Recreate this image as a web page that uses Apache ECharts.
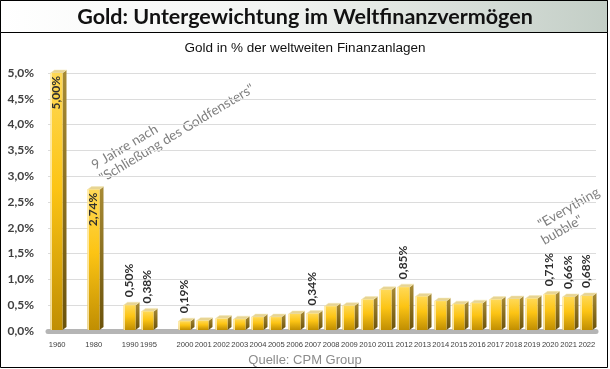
<!DOCTYPE html>
<html><head><meta charset="utf-8">
<script src="https://cdn.jsdelivr.net/npm/echarts@6/dist/echarts.min.js"></script>
<style>html,body{margin:0;padding:0;background:#fff}#c{width:610px;height:369px}</style>
</head><body><div id="c"></div>
<script>
// axis slots (blank slots reproduce the gaps in the time line)
const axisSlots = ['1960','','1980','','1990','1995','','2000','2001','2002','2003','2004','2005','2006','2007','2008','2009','2010','2011','2012','2013','2014','2015','2016','2017','2018','2019','2020','2021','2022'];
const years = ['1960','1980','1990','1995','2000','2001','2002','2003','2004','2005','2006','2007','2008','2009','2010','2011','2012','2013','2014','2015','2016','2017','2018','2019','2020','2021','2022'];
const values = [5.00,2.74,0.50,0.38,0.19,0.20,0.24,0.23,0.27,0.27,0.33,0.34,0.48,0.49,0.61,0.80,0.85,0.67,0.58,0.52,0.54,0.61,0.62,0.63,0.71,0.66,0.68];
const labelledYears = ['1960','1980','1990','1995','2000','2007','2012','2020','2021','2022'];
const insideLabelYears = ['1960','1980'];
const titleText = 'Gold: Untergewichtung im Weltfinanzvermögen';
const subtitleText = 'Gold in % der weltweiten Finanzanlagen';
const sourceText = 'Quelle: CPM Group';
const note1 = ['9 Jahre nach', '"Schließung des Goldfensters"'];
const note2 = ['"Everything', 'bubble"'];

const pct = (v, d) => v.toFixed(d).replace('.', ',') + '%';
const data = years.map((y, i) => [axisSlots.indexOf(y), values[i]]);

const chart = echarts.init(document.getElementById('c'), null, {renderer: 'canvas'});
const calib = 'Lato, "Open Sans", sans-serif';
const annoStyle = {font: '13.5px ' + calib, fill: '#808080', align: 'center', verticalAlign: 'middle'};

chart.setOption({
  animation: false,
  title: [
    {text: titleText, left: 'center', top: 5, padding: 0, textStyle: {fontFamily: calib, fontWeight: 'bold', fontSize: 21.5, lineHeight: 24, color: '#111'}},
    {text: subtitleText, left: 'center', top: 41, padding: 0, textStyle: {fontFamily: '"Liberation Sans", Arial, sans-serif', fontWeight: 'normal', fontSize: 13.5, lineHeight: 15, color: '#111'}},
    {text: sourceText, left: 'center', top: 353, padding: 0, textStyle: {fontFamily: '"Liberation Sans", Arial, sans-serif', fontWeight: 'normal', fontSize: 13, color: '#8c8c8c', lineHeight: 14}}
  ],
  graphic: [
    {type: 'rect', z: -10, silent: true, shape: {x: 0.5, y: 0.5, width: 607, height: 367},
     style: {fill: '#fff', stroke: '#000', lineWidth: 1}},
    {type: 'rect', z: -9, silent: true, shape: {x: 0.5, y: 0.5, width: 607, height: 32},
     style: {fill: new echarts.graphic.LinearGradient(0, 0, 1, 0, [{offset: 0, color: '#ffffff'}, {offset: 0.45, color: '#f2f4f2'}, {offset: 1, color: '#c3cec6'}]), stroke: '#000', lineWidth: 1}},
    {type: 'text', x: 124.7, y: 147, rotation: 31 * Math.PI / 180, style: Object.assign({text: note1[0]}, annoStyle)},
    {type: 'text', x: 176.7, y: 133.3, rotation: 31 * Math.PI / 180, style: Object.assign({text: note1[1]}, annoStyle)},
    {type: 'text', x: 568.7, y: 208, rotation: 30 * Math.PI / 180, style: Object.assign({text: note2[0]}, annoStyle)},
    {type: 'text', x: 562, y: 230, rotation: 30 * Math.PI / 180, style: Object.assign({text: note2[1]}, annoStyle)}
  ],
  grid: {left: 48, right: 14, top: 73, bottom: 38, containLabel: false},
  xAxis: {
    type: 'category', data: axisSlots, boundaryGap: true,
    axisTick: {show: false},
    axisLine: {show: true, lineStyle: {color: '#b5b5b5', width: 5}},
    axisLabel: {interval: 0, margin: 10, fontSize: 7.6, color: '#404040', fontFamily: '"Liberation Sans", sans-serif'}
  },
  yAxis: {
    type: 'value', min: 0, max: 5, interval: 0.5,
    axisLine: {show: false}, axisTick: {show: false},
    splitLine: {lineStyle: {color: '#dcdcdc', width: 1}},
    axisLabel: {margin: 14, formatter: v => pct(v, 1), fontFamily: calib, fontWeight: 'bold', fontSize: 12, color: '#404040'}
  },
  series: [{
    type: 'custom',
    data: data,
    encode: {x: 0, y: 1},
    renderItem: function (params, api) {
      const idx = api.value(0), v = api.value(1);
      const p = api.coord([idx, v]);
      const b = api.coord([idx, 0]);
      const fw = 12, sw = 4, d = 3;
      const x0 = Math.round(p[0] - (fw + sw) / 2 + 1) + 0.5;
      const yT = p[1], yB = b[1] - 1;
      const year = years[params.dataIndex];
      const children = [
        {type: 'polygon', shape: {points: [[x0 + fw, yT], [x0 + fw + sw, yT - d], [x0 + fw + sw, yB - d], [x0 + fw, yB]]},
         style: {fill: new echarts.graphic.LinearGradient(0, 0, 0, 1, [{offset: 0, color: '#a88b35'}, {offset: 1, color: '#6b520a'}])}},
        {type: 'polygon', shape: {points: [[x0, yT], [x0 + sw, yT - d], [x0 + fw + sw, yT - d], [x0 + fw, yT]]},
         style: {fill: '#e7d493', stroke: '#f3e6b4', lineWidth: 0.5}},
        {type: 'rect', shape: {x: x0, y: yT, width: fw, height: yB - yT},
         style: {fill: new echarts.graphic.LinearGradient(0, 0, 0, 1, [{offset: 0, color: '#ffd956'}, {offset: 0.45, color: '#fcc414'}, {offset: 1, color: '#c08e02'}])}},
        {type: 'rect', shape: {x: x0, y: yT, width: 1.5, height: yB - yT},
         style: {fill: 'rgba(255,240,190,0.8)'}}
      ];
      if (labelledYears.indexOf(year) >= 0) {
        const inside = insideLabelYears.indexOf(year) >= 0;
        children.push({
          type: 'text', x: x0 + fw / 2, y: inside ? yT + 3 : yT - d - 5, rotation: Math.PI / 2,
          style: {text: pct(v, 2), font: 'bold 12px ' + calib, fill: '#2e2e2e', align: inside ? 'right' : 'left', verticalAlign: 'middle'}
        });
      }
      return {type: 'group', children: children};
    }
  }]
});
</script>
</body></html>
